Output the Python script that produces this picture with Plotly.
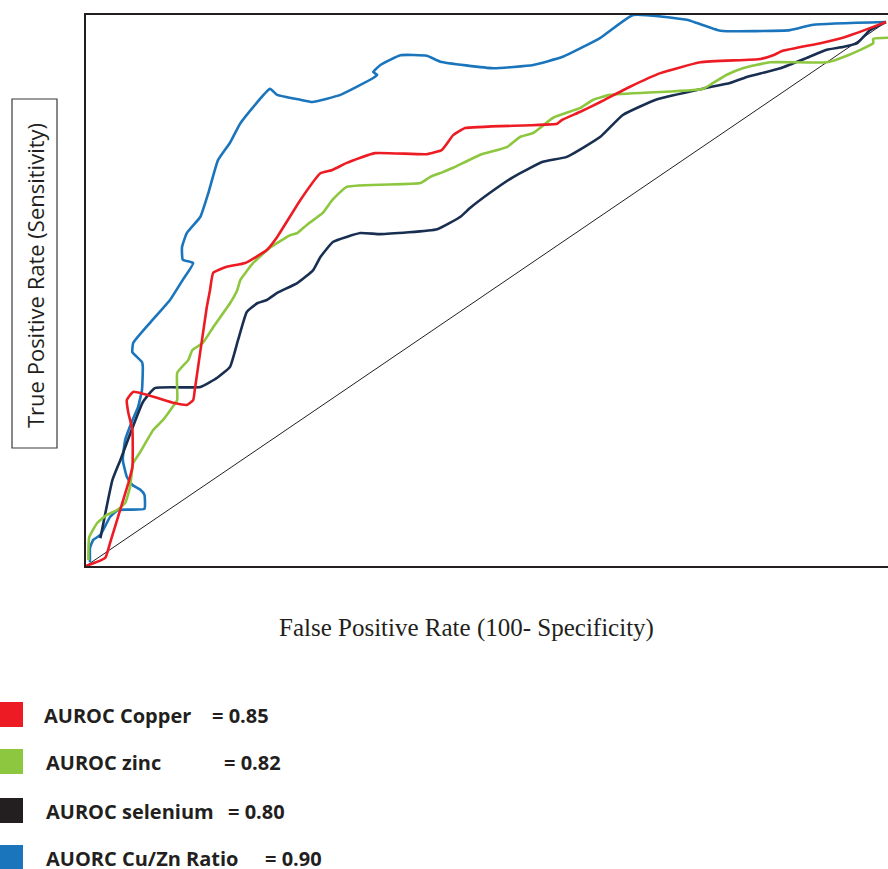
import plotly.graph_objects as go

# ---- data (percent units: FPR = 100 - specificity, TPR = sensitivity) ----
copper_x = [0, 2.4, 3.0, 5.3, 5.8, 5.8, 5.3, 5.1, 5.9, 10.9, 12.6, 13.4, 13.6, 15.1, 15.5, 15.9,
            17.6, 19.9, 22.6, 23.9, 26.8, 29.3, 30.8, 32.6, 36.1, 42.6, 44.5, 45.9, 47.4, 58.9,
            59.5, 61.8, 64.3, 68.0, 71.8, 76.8, 84.3, 85.9, 87.1, 91.8, 94.6, 98.4, 100]
copper_y = [0, 1.5, 4.2, 15.3, 18.2, 25.0, 28.1, 30.5, 32.0, 30.0, 29.6, 30.5, 32.4, 47.6, 50.7, 53.9,
            55.0, 55.7, 58.1, 60.5, 67.3, 72.2, 72.8, 74.1, 75.9, 75.7, 76.5, 79.2, 80.5, 81.3,
            82.0, 83.5, 85.3, 88.1, 90.6, 92.6, 93.2, 93.9, 94.7, 96.1, 97.1, 99.1, 100]

zinc_x = [0.3, 0.4, 1.4, 2.6, 3.9, 4.9, 5.5, 5.9, 6.8, 8.4, 9.6, 10.8, 11.4, 11.4, 12.8, 13.3,
          14.6, 15.9, 18.0, 18.9, 19.3, 20.9, 23.0, 25.5, 26.4, 27.6, 29.6, 30.8, 32.6, 41.8,
          43.0, 44.6, 45.9, 49.3, 52.6, 54.3, 55.9, 58.4, 61.8, 63.4, 65.5, 77.1, 78.4, 80.1,
          82.1, 85.5, 92.6, 95.1, 98.4, 98.4, 100.3]
zinc_y = [1.1, 5.3, 7.9, 9.4, 10.3, 11.6, 14.5, 18.9, 21.0, 25.0, 26.8, 29.2, 30.5, 35.5, 37.9, 39.7,
          41.0, 43.9, 48.3, 50.7, 52.6, 55.7, 58.5, 60.8, 61.2, 62.7, 64.9, 67.3, 69.7, 70.4,
          71.5, 72.4, 73.2, 75.6, 77.0, 78.9, 79.6, 82.4, 84.2, 85.7, 86.6, 87.7, 88.8, 90.3,
          91.5, 92.6, 92.6, 93.8, 96.1, 96.9, 97.1]

selenium_x = [1.8, 3.3, 4.3, 7.1, 8.6, 14.3, 16.4, 18.0, 19.0, 20.1, 21.4, 22.6, 23.9, 26.4, 28.4,
              29.3, 30.9, 34.3, 36.8, 43.9, 46.8, 48.0, 50.5, 53.4, 57.1, 60.1, 64.3, 67.1, 71.4,
              77.6, 80.5, 82.6, 86.8, 90.1, 92.6, 94.6, 96.4, 98.0, 100]
selenium_y = [5.1, 15.8, 19.5, 30.1, 32.7, 32.9, 34.6, 36.6, 41.5, 46.7, 48.3, 48.9, 50.2, 52.0, 54.4,
              56.8, 59.6, 61.2, 61.0, 61.9, 64.2, 65.8, 68.6, 71.5, 74.3, 75.2, 78.9, 82.9, 85.8,
              87.9, 88.8, 89.9, 91.5, 93.4, 94.9, 95.4, 96.1, 98.5, 100]

ratio_x = [0.5, 0.5, 0.9, 1.8, 3.0, 4.0, 7.3, 7.3, 6.8, 5.8, 5.1, 4.6, 4.9, 5.8, 6.5, 7.0, 7.1, 7.0,
           5.8, 5.9, 8.0, 10.5, 12.1, 13.4, 12.1, 12.0, 12.6, 14.3, 15.3, 16.5, 18.0, 19.3, 23.0,
           23.9, 26.8, 28.3, 31.8, 35.9, 36.4, 35.9, 36.8, 39.3, 42.6, 44.3, 50.9, 55.9, 59.6,
           64.3, 68.4, 75.1, 76.4, 79.3, 88.0, 90.9, 100]
ratio_y = [0.7, 3.3, 4.8, 5.7, 9.0, 10.3, 10.5, 13.1, 14.0, 14.9, 16.4, 19.5, 23.2, 26.8, 29.2, 32.4,
           36.6, 37.5, 39.3, 41.0, 44.7, 48.9, 52.6, 55.7, 56.3, 58.6, 61.2, 64.2, 68.6, 74.6, 77.8,
           81.4, 87.7, 86.6, 85.7, 85.3, 86.6, 89.7, 90.3, 90.8, 92.1, 93.9, 93.8, 92.7, 91.5,
           92.1, 93.6, 97.1, 101.3, 100.4, 99.8, 98.4, 98.5, 99.5, 100]

ref_x = [0, 100]
ref_y = [0, 100]

legend_labels = ["AUROC Copper", "AUROC zinc", "AUROC selenium", "AUORC Cu/Zn Ratio"]
legend_values = ["= 0.85", "= 0.82", "= 0.80", "= 0.90"]

# ---- styles ----
C_RED = "#ed1c24"
C_GREEN = "#8dc63f"
C_NAVY = "#192f52"
C_BLUE = "#1a75bc"
C_BLACK = "#231f20"
legend_colors = [C_RED, C_GREEN, C_BLACK, C_BLUE]

W, H = 888, 869
L, R, T, B = 86, 0, 15, 303   # plot area: x 86..888, y 15..566
PW, PH = W - L - R, H - T - B


def px(x, y):
    """pixel position -> paper coords"""
    return (x - L) / PW, (H - B - y) / PH


fig = go.Figure()
fig.add_trace(go.Scatter(x=ref_x, y=ref_y, mode="lines",
                         line=dict(color=C_BLACK, width=1), hoverinfo="skip"))
series = [
    (ratio_x, ratio_y, C_BLUE),
    (selenium_x, selenium_y, C_NAVY),
    (zinc_x, zinc_y, C_GREEN),
    (copper_x, copper_y, C_RED),
]
for xs, ys, c in series:
    fig.add_trace(go.Scatter(x=xs, y=ys, mode="lines",
                             line=dict(color=c, width=2.6, shape="spline", smoothing=0.4)))

shapes = []
annotations = []

# y-axis title box
x0, y0 = px(12, 448)
x1, y1 = px(57, 99)
shapes.append(dict(type="rect", xref="paper", yref="paper", x0=x0, y0=y0, x1=x1, y1=y1,
                   line=dict(color="#3a3a3a", width=1.2), fillcolor="rgba(0,0,0,0)"))
cx, cy = px(35, 276)
annotations.append(dict(text="True Positive Rate (Sensitivity)", xref="paper", yref="paper",
                        x=cx, y=cy, textangle=-90, showarrow=False,
                        xanchor="center", yanchor="middle",
                        font=dict(family="Open Sans", size=22, color=C_BLACK)))

# x-axis title
tx, ty = px(466, 628)
annotations.append(dict(text="False Positive Rate (100- Specificity)", xref="paper", yref="paper",
                        x=tx, y=ty, showarrow=False, xanchor="center", yanchor="middle",
                        font=dict(family="Liberation Serif", size=25, color=C_BLACK)))

# legend
rows_top = [702, 749, 798, 845]
label_x = [42, 44, 44, 44]
value_x = [210, 222, 226, 263]
for i in range(4):
    top = rows_top[i]
    a0, b0 = px(0, top + 25)
    a1, b1 = px(23, top)
    shapes.append(dict(type="rect", xref="paper", yref="paper", x0=a0, y0=b0, x1=a1, y1=b1,
                       line=dict(width=0), fillcolor=legend_colors[i]))
    lx, ly = px(label_x[i], top + 13)
    annotations.append(dict(text="<b>" + legend_labels[i] + "</b>", xref="paper", yref="paper",
                            x=lx, y=ly, showarrow=False, xanchor="left", yanchor="middle",
                            font=dict(family="Open Sans", size=20, color=C_BLACK)))
    vx, vy = px(value_x[i], top + 13)
    annotations.append(dict(text="<b>" + legend_values[i] + "</b>", xref="paper", yref="paper",
                            x=vx, y=vy, showarrow=False, xanchor="left", yanchor="middle",
                            font=dict(family="Open Sans", size=20, color=C_BLACK)))

fig.update_layout(
    width=W, height=H,
    margin=dict(l=L, r=R, t=T, b=B, pad=0),
    paper_bgcolor="white", plot_bgcolor="white",
    showlegend=False,
    shapes=shapes, annotations=annotations,
    xaxis=dict(range=[0, PW / 8.0], showgrid=False, zeroline=False, showticklabels=False,
               ticks="", showline=True, linecolor=C_BLACK, linewidth=2, mirror=True,
               fixedrange=True),
    yaxis=dict(range=[0, PH / 5.44], showgrid=False, zeroline=False, showticklabels=False,
               ticks="", showline=True, linecolor=C_BLACK, linewidth=2, mirror=False,
               fixedrange=True),
)

fig.write_html("out.html", config={"displayModeBar": False},
               post_script="document.body.style.margin='0px';document.body.style.overflow='hidden';")
